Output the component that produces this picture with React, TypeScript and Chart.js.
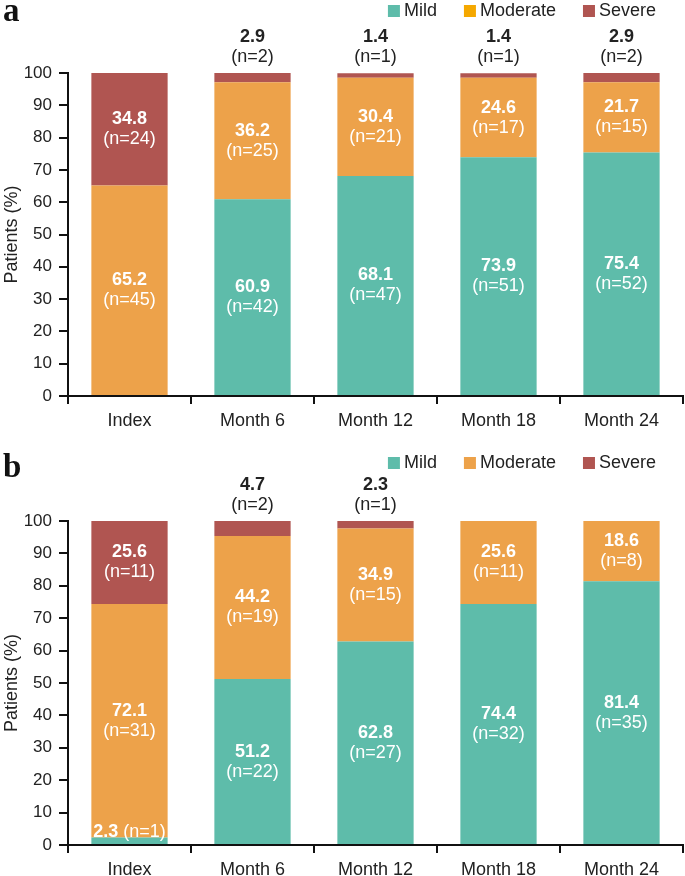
import React, { useEffect, useRef } from "react";
import { Chart, registerables } from "chart.js";

Chart.register(...registerables);

// ---------- data ----------
const categories = ["Index", "Month 6", "Month 12", "Month 18", "Month 24"];
const seriesNames = ["Mild", "Moderate", "Severe"];

// panel a
const aMild = [0, 60.9, 68.1, 73.9, 75.4];
const aModerate = [65.2, 36.2, 30.4, 24.6, 21.7];
const aSevere = [34.8, 2.9, 1.4, 1.4, 2.9];
const aMildN = [0, 42, 47, 51, 52];
const aModerateN = [45, 25, 21, 17, 15];
const aSevereN = [24, 2, 1, 1, 2];

// panel b
const bMild = [2.3, 51.2, 62.8, 74.4, 81.4];
const bModerate = [72.1, 44.2, 34.9, 25.6, 18.6];
const bSevere = [25.6, 4.7, 2.3, 0, 0];
const bMildN = [1, 22, 27, 32, 35];
const bModerateN = [31, 19, 15, 11, 8];
const bSevereN = [11, 2, 1, 0, 0];

const yMin = 0;
const yMax = 100;
const yStep = 10;
const yTitle = "Patients (%)";

// ---------- styles ----------
const FONT = "'Liberation Sans', Arial, Helvetica, sans-serif";
const SERIF = "'Liberation Serif', 'Times New Roman', serif";
const COLORS = ["#5ebcaa", "#eda24a", "#b05551"];
const TEXT = "#222222";
const AXIS = "#111111";

type PanelSpec = {
  tag: string;
  values: number[][];
  counts: number[][];
  legendColors: string[];
  height: number;
  top: number;
  plotTop: number;
  plotBottom: number;
  legendY: number;
  tagBaseline: number;
};

const panels: PanelSpec[] = [
  {
    tag: "a",
    values: [aMild, aModerate, aSevere],
    counts: [aMildN, aModerateN, aSevereN],
    legendColors: ["#5ebcaa", "#f5a800", "#b05551"],
    height: 448,
    top: 0,
    plotTop: 73,
    plotBottom: 396,
    legendY: 11,
    tagBaseline: 21,
  },
  {
    tag: "b",
    values: [bMild, bModerate, bSevere],
    counts: [bMildN, bModerateN, bSevereN],
    legendColors: COLORS,
    height: 428,
    top: 448,
    plotTop: 73,
    plotBottom: 397,
    legendY: 15,
    tagBaseline: 29,
  },
];

function makeOverlayPlugin(spec: PanelSpec) {
  return {
    id: "overlay_" + spec.tag,
    afterDraw(chart: any) {
      const ctx: CanvasRenderingContext2D = chart.ctx;
      ctx.save();
      // panel tag
      ctx.font = `bold 33px ${SERIF}`;
      ctx.fillStyle = "#111";
      ctx.textAlign = "left";
      ctx.textBaseline = "alphabetic";
      ctx.fillText(spec.tag, 3, spec.tagBaseline);

      // legend (right aligned)
      ctx.font = `18px ${FONT}`;
      ctx.textBaseline = "middle";
      const sw = 12;
      const gapText = 4;
      const gapItem = 27;
      let right = 656;
      for (let i = seriesNames.length - 1; i >= 0; i--) {
        const w = ctx.measureText(seriesNames[i]).width;
        const tx = right - w;
        ctx.fillStyle = TEXT;
        ctx.textAlign = "left";
        ctx.fillText(seriesNames[i], tx, spec.legendY);
        ctx.fillStyle = spec.legendColors[i];
        ctx.fillRect(tx - gapText - sw, spec.legendY - 6, sw, sw);
        right = tx - gapText - sw - gapItem;
      }

      // value labels
      chart.data.datasets.forEach((ds: any, di: number) => {
        const meta = chart.getDatasetMeta(di);
        meta.data.forEach((bar: any, j: number) => {
          const v = ds.data[j];
          if (!v) return;
          const n = spec.counts[di][j];
          const p = bar.getProps(["x", "y", "base"], true);
          const vs = v.toFixed(1);
          const ns = `(n=${n})`;
          ctx.textAlign = "center";
          ctx.textBaseline = "middle";
          if (v >= 10) {
            const cy = (p.y + p.base) / 2;
            ctx.fillStyle = "#ffffff";
            ctx.font = `bold 18px ${FONT}`;
            ctx.fillText(vs, p.x, cy - 10);
            ctx.font = `18px ${FONT}`;
            ctx.fillText(ns, p.x, cy + 10);
          } else if (di === seriesNames.length - 1) {
            ctx.fillStyle = TEXT;
            ctx.font = `bold 18px ${FONT}`;
            ctx.fillText(vs, p.x, p.y - 36);
            ctx.font = `18px ${FONT}`;
            ctx.fillText(ns, p.x, p.y - 16);
          } else {
            ctx.fillStyle = "#ffffff";
            ctx.font = `bold 18px ${FONT}`;
            const w1 = ctx.measureText(vs).width;
            ctx.font = `18px ${FONT}`;
            const w2 = ctx.measureText(" " + ns).width;
            const x0 = p.x - (w1 + w2) / 2;
            const cy = p.base - 12;
            ctx.textAlign = "left";
            ctx.font = `bold 18px ${FONT}`;
            ctx.fillText(vs, x0, cy);
            ctx.font = `18px ${FONT}`;
            ctx.fillText(" " + ns, x0 + w1, cy);
          }
        });
      });
      ctx.restore();
    },
  };
}

function Panel({ spec }: { spec: PanelSpec }) {
  const ref = useRef<HTMLCanvasElement | null>(null);
  useEffect(() => {
    if (!ref.current) return;
    const xHeight = spec.height - spec.plotBottom;
    const chart = new Chart(ref.current, {
      type: "bar",
      data: {
        labels: categories,
        datasets: seriesNames.map((name, i) => ({
          label: name,
          data: spec.values[i],
          backgroundColor: COLORS[i],
          borderWidth: 0,
          categoryPercentage: 1,
          barPercentage: 0.62,
        })),
      },
      options: {
        animation: false,
        responsive: false,
        devicePixelRatio: 1,
        layout: { padding: { top: spec.plotTop, left: 0, right: 2, bottom: 0 } },
        plugins: {
          legend: { display: false },
          tooltip: { enabled: false },
          title: { display: false },
        },
        scales: {
          x: {
            stacked: true,
            ticks: { font: { size: 18, family: FONT }, color: TEXT, padding: 6 },
            grid: {
              drawOnChartArea: false,
              drawTicks: true,
              tickLength: 8,
              color: AXIS,
              lineWidth: 2,
              offset: true,
            },
            border: { display: true, color: AXIS, width: 2 },
            afterFit: (s: any) => {
              s.height = xHeight;
            },
          },
          y: {
            stacked: true,
            min: yMin,
            max: yMax,
            ticks: {
              stepSize: yStep,
              font: { size: 17, family: FONT },
              color: TEXT,
              padding: 7,
            },
            grid: {
              drawOnChartArea: false,
              drawTicks: true,
              tickLength: 9,
              color: AXIS,
              lineWidth: 2,
            },
            border: { display: true, color: AXIS, width: 2 },
            title: {
              display: true,
              text: yTitle,
              font: { size: 18, family: FONT },
              color: TEXT,
              padding: { top: 1, bottom: 0 },
            },
            afterFit: (s: any) => {
              s.width = 68;
            },
          },
        },
      },
      plugins: [makeOverlayPlugin(spec)],
    } as any);
    return () => chart.destroy();
  }, [spec]);
  return (
    <canvas
      ref={ref}
      width={685}
      height={spec.height}
      style={{ position: "absolute", left: 0, top: spec.top, width: 685, height: spec.height }}
    />
  );
}

export default function App() {
  return (
    <div
      style={{
        position: "absolute",
        left: 0,
        top: 0,
        width: 685,
        height: 876,
        overflow: "hidden",
        background: "#ffffff",
      }}
    >
      {panels.map((p) => (
        <Panel key={p.tag} spec={p} />
      ))}
    </div>
  );
}
